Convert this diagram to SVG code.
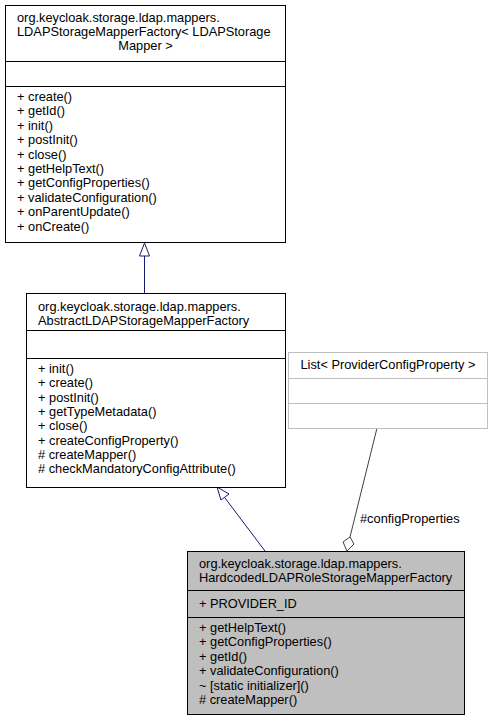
<svg xmlns="http://www.w3.org/2000/svg" width="492" height="721" viewBox="0 0 492 721">
<style>
text{font-family:"Liberation Sans",Arial,sans-serif;font-size:12.8px;fill:#000}
.c{text-anchor:middle}
.box{fill:#fff;stroke:#000;stroke-width:1}
.cur{fill:#bfbfbf;stroke:#000;stroke-width:1}
.ext{fill:#fff;stroke:#bfbfbf;stroke-width:1}
.inh{fill:none;stroke:#191970;stroke-width:1}
.agg{fill:none;stroke:#404040;stroke-width:1}
</style>
<rect width="492" height="721" fill="#fff"/>
<g id="connectors">
<line class="inh" x1="144.5" y1="293" x2="144.5" y2="256"/>
<polygon class="inh" points="144.5,243 139.5,256 149.5,256"/>
<line class="inh" x1="265" y1="551" x2="225" y2="498"/>
<polygon class="inh" points="217,487 221,500 229,494"/>
<line class="agg" x1="377" y1="428" x2="350" y2="537"/>
<polygon class="agg" points="347,551 343,542 350,537 354,544"/>
<text x="360" y="523">#configProperties</text>
</g>
<g id="node-LDAPStorageMapperFactory">
<rect class="box" x="5.5" y="5.5" width="280" height="237"/>
<line class="box" x1="5.5" y1="61.5" x2="285.5" y2="61.5"/>
<line class="box" x1="5.5" y1="86.5" x2="285.5" y2="86.5"/>
<text x="17" y="22">org.keycloak.storage.ldap.mappers.</text>
<text x="17" y="36">LDAPStorageMapperFactory&lt; LDAPStorage</text>
<text class="c" x="145.5" y="50">Mapper &gt;</text>
<text x="17" y="101">+ create()</text>
<text x="17" y="115.4">+ getId()</text>
<text x="17" y="129.8">+ init()</text>
<text x="17" y="144.2">+ postInit()</text>
<text x="17" y="158.6">+ close()</text>
<text x="17" y="173">+ getHelpText()</text>
<text x="17" y="187.4">+ getConfigProperties()</text>
<text x="17" y="201.8">+ validateConfiguration()</text>
<text x="17" y="216.2">+ onParentUpdate()</text>
<text x="17" y="230.6">+ onCreate()</text>
</g>
<g id="node-AbstractLDAPStorageMapperFactory">
<rect class="box" x="26.5" y="293.5" width="259" height="194"/>
<line class="box" x1="26.5" y1="330.5" x2="285.5" y2="330.5"/>
<line class="box" x1="26.5" y1="358.5" x2="285.5" y2="358.5"/>
<text x="38" y="311">org.keycloak.storage.ldap.mappers.</text>
<text x="38" y="325">AbstractLDAPStorageMapperFactory</text>
<text x="38" y="373">+ init()</text>
<text x="38" y="387.3">+ create()</text>
<text x="38" y="401.6">+ postInit()</text>
<text x="38" y="415.9">+ getTypeMetadata()</text>
<text x="38" y="430.2">+ close()</text>
<text x="38" y="444.5">+ createConfigProperty()</text>
<text x="38" y="458.8"># createMapper()</text>
<text x="38" y="473.1"># checkMandatoryConfigAttribute()</text>
</g>
<g id="node-List">
<rect class="ext" x="288.5" y="352.5" width="199" height="76"/>
<line class="ext" x1="288.5" y1="378.5" x2="487.5" y2="378.5"/>
<line class="ext" x1="288.5" y1="403.5" x2="487.5" y2="403.5"/>
<text class="c" x="388" y="369">List&lt; ProviderConfigProperty &gt;</text>
</g>
<g id="node-HardcodedLDAPRoleStorageMapperFactory">
<rect class="cur" x="187.5" y="551.5" width="277" height="163"/>
<line class="cur" x1="187.5" y1="590.5" x2="464.5" y2="590.5"/>
<line class="cur" x1="187.5" y1="617.5" x2="464.5" y2="617.5"/>
<text x="199" y="568">org.keycloak.storage.ldap.mappers.</text>
<text x="199" y="582">HardcodedLDAPRoleStorageMapperFactory</text>
<text x="199" y="608">+ PROVIDER_ID</text>
<text x="199" y="632">+ getHelpText()</text>
<text x="199" y="646.4">+ getConfigProperties()</text>
<text x="199" y="660.8">+ getId()</text>
<text x="199" y="675.2">+ validateConfiguration()</text>
<text x="199" y="689.6">~ [static initializer]()</text>
<text x="199" y="704"># createMapper()</text>
</g>
</svg>
